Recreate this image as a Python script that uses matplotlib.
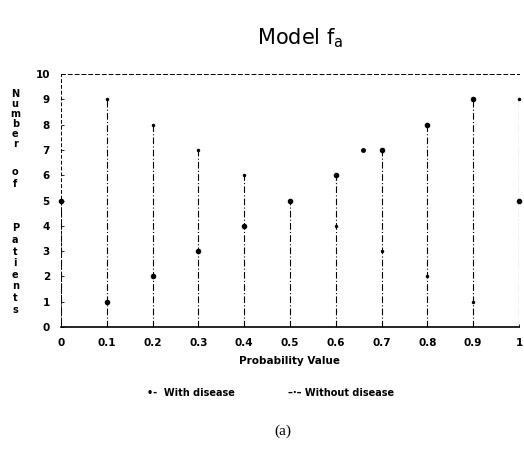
import numpy as np
import matplotlib.pyplot as plt

# Probability values and patient counts
prob = [0, 0.1, 0.2, 0.3, 0.4, 0.5, 0.6, 0.7, 0.8, 0.9, 1.0]
with_disease = [5, 1, 2, 3, 4, 5, 6, 7, 8, 9, 5]
without_disease = [5, 9, 8, 7, 6, 5, 4, 3, 2, 1, 9]
# stray point near 0.66
extra_x = [0.66]
extra_y = [7]

xtick_labels = ['0', '0.1', '0.2', '0.3', '0.4', '0.5', '0.6', '0.7', '0.8', '0.9', '1']

fig = plt.figure(figsize=(5.24, 4.49), dpi=100)
ax = fig.add_axes([0.1164, 0.2717, 0.874, 0.5635])

dashdot = (0, (6, 2, 1, 2))
top = np.maximum(with_disease, without_disease)
ax.vlines(prob, 0, top, colors='black', linewidth=0.8, linestyles=[dashdot])
ax.plot(prob, with_disease, 'o', color='black', markersize=3, clip_on=False)
ax.plot(prob, without_disease, 'o', color='black', markersize=1.5, clip_on=False)
ax.plot(extra_x, extra_y, 'o', color='black', markersize=2.5)

ax.set_xlim(0, 1)
ax.set_ylim(0, 10)
ax.set_xticks(prob)
ax.set_xticklabels(xtick_labels, fontweight='bold', fontsize=7.5)
ax.set_yticks(range(11))
ax.set_yticklabels([str(i) for i in range(11)], fontweight='bold', fontsize=7.5)
ax.tick_params(axis='both', length=2, width=0.6, direction='in', pad=8)

ax.spines['right'].set_visible(False)
ax.spines['top'].set_linestyle((0, (4, 3)))
ax.spines['top'].set_linewidth(0.7)
ax.spines['left'].set_linestyle((0, (3, 3)))
ax.spines['left'].set_linewidth(0.7)
ax.spines['bottom'].set_linewidth(1.2)

ax.set_xlabel('Probability Value', fontweight='bold', fontsize=7.5, labelpad=6)

# stacked y label
fig.text(0.029, 1 - 119.5 / 449, '\n'.join('Number'), ha='center', va='center',
         fontsize=7, fontweight='bold', linespacing=1.0)
fig.text(0.029, 1 - 178 / 449, '\n'.join('of'), ha='center', va='center',
         fontsize=7, fontweight='bold', linespacing=1.2)
fig.text(0.029, 1 - 269 / 449, '\n'.join('Patients'), ha='center', va='center',
         fontsize=7, fontweight='bold', linespacing=1.2)

fig.text(300 / 524, 1 - 38 / 449, r'Model f$_\mathregular{a}$', ha='center', va='center',
         fontsize=15)

# legend
fig.text(147 / 524, 1 - 393 / 449, '\u2022-  With disease', ha='left', va='center',
         fontsize=7, fontweight='bold')
fig.text(288 / 524, 1 - 393 / 449, '\u2013\u00b7\u2013 Without disease', ha='left', va='center',
         fontsize=7, fontweight='bold')

fig.text(283 / 524, 1 - 431 / 449, '(a)', ha='center', va='center',
         fontsize=11, family='Liberation Serif')

fig.savefig('out.png', dpi=100)
